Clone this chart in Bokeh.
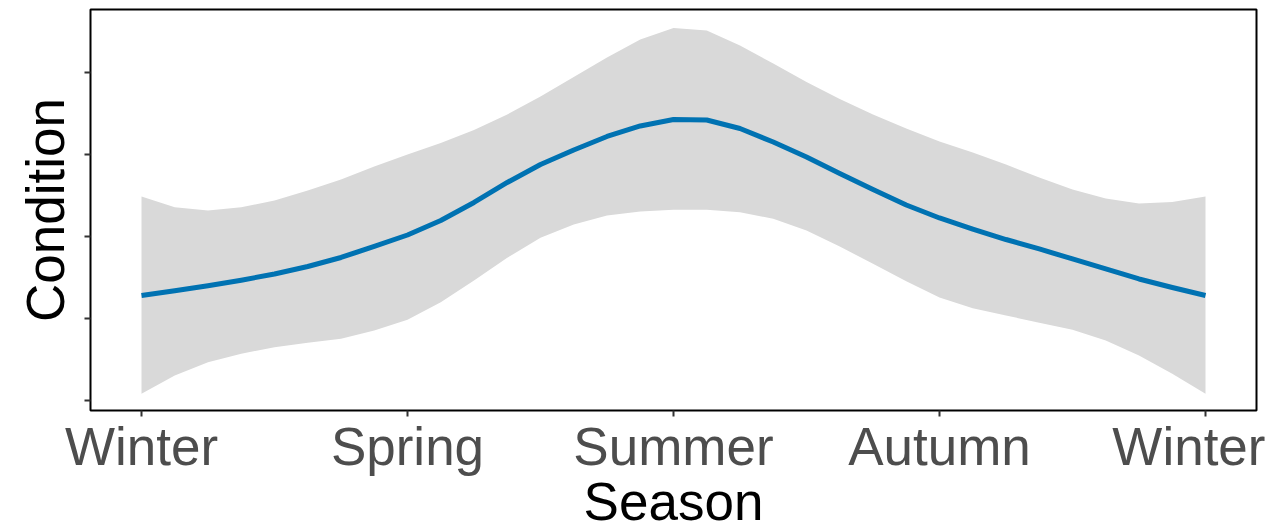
from bokeh.plotting import figure
from bokeh.models import Range1d, FixedTicker
from bokeh.embed import file_html
from bokeh.resources import INLINE

# ---- data ----
season_pos = [0, 1, 2, 3, 4]
season_labels = ["Winter", "Spring", "Summer", "Autumn", "Winter"]

x_vals = [0.0, 0.125, 0.25, 0.375, 0.5, 0.625, 0.75, 0.875,
          1.0, 1.125, 1.25, 1.375, 1.5, 1.625, 1.75, 1.875,
          2.0, 2.125, 2.25, 2.375, 2.5, 2.625, 2.75, 2.875,
          3.0, 3.125, 3.25, 3.375, 3.5, 3.625, 3.75, 3.875, 4.0]

fit = [2.280, 2.338, 2.399, 2.467, 2.543, 2.634, 2.744, 2.878,
       3.018, 3.195, 3.415, 3.659, 3.878, 4.055, 4.220, 4.348,
       4.427, 4.421, 4.317, 4.152, 3.970, 3.768, 3.573, 3.384,
       3.226, 3.091, 2.963, 2.848, 2.726, 2.604, 2.482, 2.378, 2.280]

upper = [3.488, 3.357, 3.317, 3.357, 3.439, 3.561, 3.695, 3.854,
         4.000, 4.140, 4.299, 4.488, 4.707, 4.945, 5.183, 5.402,
         5.543, 5.512, 5.329, 5.110, 4.884, 4.677, 4.488, 4.317,
         4.159, 4.024, 3.878, 3.720, 3.573, 3.463, 3.402, 3.421, 3.488]

lower = [1.082, 1.305, 1.467, 1.570, 1.650, 1.704, 1.752, 1.854,
         1.984, 2.199, 2.463, 2.740, 2.985, 3.146, 3.256, 3.305,
         3.326, 3.326, 3.296, 3.216, 3.073, 2.878, 2.667, 2.455,
         2.256, 2.126, 2.037, 1.948, 1.862, 1.732, 1.549, 1.326, 1.082]

y_ticks = [1, 2, 3, 4, 5]

FONT = "Liberation Sans"

p = figure(frame_width=1166, frame_height=401,
           x_range=Range1d(-0.1917, 4.1917),
           y_range=Range1d(0.878, 5.768),
           output_backend="svg", toolbar_location=None,
           min_border_left=90, min_border_right=9,
           min_border_top=9, min_border_bottom=100,
           background_fill_color="white", border_fill_color="white")

p.varea(x=x_vals, y1=lower, y2=upper, fill_color="#D9D9D9", fill_alpha=1.0)
p.line(x=x_vals, y=fit, line_color="#0072B2", line_width=5,
       line_join="round", line_cap="butt")

p.grid.visible = False
p.outline_line_color = "black"
p.outline_line_width = 2

# x axis
xa = p.xaxis[0]
xa.ticker = FixedTicker(ticks=season_pos)
xa.major_label_overrides = {pos: lab for pos, lab in zip(season_pos, season_labels)}
xa.axis_label = "Season"
xa.axis_line_color = None
xa.major_tick_in = 0
xa.major_tick_out = 6
xa.major_tick_line_color = "#333333"
xa.major_tick_line_width = 2
xa.minor_tick_line_color = None
xa.major_label_text_font = FONT
xa.major_label_text_font_size = "53px"
xa.major_label_text_color = "#4D4D4D"
xa.major_label_standoff = 0
xa.axis_label_text_font = FONT
xa.axis_label_text_font_size = "53px"
xa.axis_label_text_font_style = "normal"
xa.axis_label_text_color = "black"
xa.axis_label_standoff = -7

# y axis
ya = p.yaxis[0]
ya.ticker = FixedTicker(ticks=y_ticks)
ya.major_label_overrides = {t: "" for t in y_ticks}
ya.major_label_standoff = 0
ya.axis_label = "Condition"
ya.axis_line_color = None
ya.major_tick_in = 0
ya.major_tick_out = 6
ya.major_tick_line_color = "#333333"
ya.major_tick_line_width = 2
ya.minor_tick_line_color = None
ya.axis_label_text_font = FONT
ya.axis_label_text_font_size = "53px"
ya.axis_label_text_font_style = "normal"
ya.axis_label_text_color = "black"
ya.axis_label_standoff = 10

open("out.html", "w").write(file_html(p, INLINE))
